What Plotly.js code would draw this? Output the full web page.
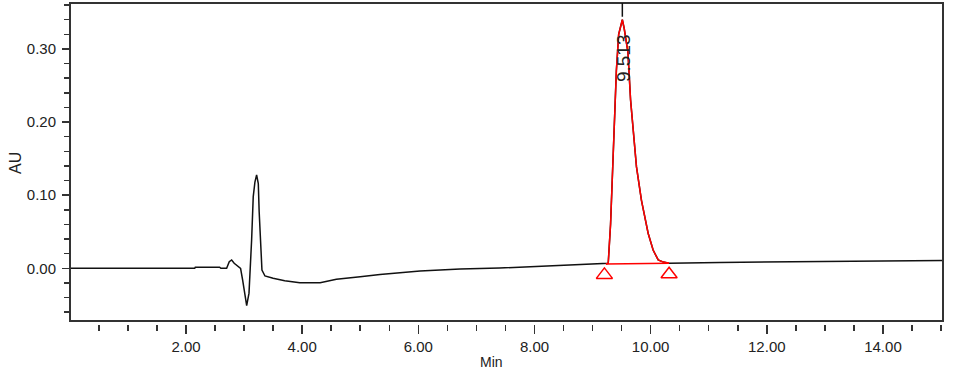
<!DOCTYPE html>
<html>
<head>
<meta charset="utf-8">
<script src="https://cdn.plot.ly/plotly-3.0.1.min.js"></script>
<style>html,body{margin:0;padding:0;background:#fff;}#chart{width:953px;height:371px;}</style>
</head>
<body>
<div id="chart"></div>
<script>
// ---- data ----
const timeMin = [0.00, 2.15, 2.16, 2.58, 2.60, 2.70, 2.745, 2.786, 2.83, 2.90, 2.94, 2.975, 3.015, 3.045, 3.085, 3.10, 3.13, 3.158, 3.187, 3.216, 3.245, 3.26, 3.285, 3.308, 3.36, 3.50, 3.70, 3.96, 4.31, 4.59, 5.00, 5.34, 6.03, 6.72, 7.40, 8.09, 8.78,
  9.23, 9.27, 9.31, 9.345, 9.38, 9.41, 9.45, 9.49, 9.513, 9.545, 9.61, 9.655, 9.70, 9.756, 9.842, 9.957, 10.043, 10.13, 10.22, 10.318,
  11.19, 12.57, 13.77, 15.03];
const signalAU = [0.0000, 0.0000, 0.0014, 0.0014, 0.0000, 0.0000, 0.0090, 0.0114, 0.0068, 0.0022, 0.0000, -0.0160, -0.0390, -0.0510, -0.0340, -0.0115, 0.0387, 0.0980, 0.1180, 0.1277, 0.1160, 0.0774, 0.0296, -0.0023, -0.0105, -0.0137, -0.0170, -0.0197, -0.0197, -0.0150, -0.0115, -0.0085, -0.0037, -0.0010, 0.0004, 0.0025, 0.0045,
  0.0060, 0.0070, 0.0600, 0.1400, 0.2100, 0.2700, 0.3200, 0.3360, 0.3400, 0.3280, 0.2950, 0.2300, 0.1850, 0.1390, 0.0930, 0.0480, 0.0250, 0.0114, 0.0085, 0.0068,
  0.0080, 0.0093, 0.0100, 0.0107];
const peakRT = [9.513];
const peakLabels = ["9.513"];
const peakStartMin = [9.23];
const peakEndMin = [10.318];
const xTickVals = [2, 4, 6, 8, 10, 12, 14];
const yTickVals = [0.0, 0.1, 0.2, 0.3];

// ---- layout constants ----
const W = 953, H = 371;
const M = {l: 70, r: 10, t: 3, b: 47};
const plotH = H - M.t - M.b;          // includes 3px gap under frame for x ticks
const gapFrac = 3 / plotH;
const xRange = [0.003, 15.034];
const yRange = [-0.0721, 0.3629];
const yDomainPx = plotH * (1 - gapFrac);
const pxToAU = (yRange[1] - yRange[0]) / yDomainPx;

function valueAt(t) {
  for (let i = 0; i < timeMin.length; i++) if (Math.abs(timeMin[i] - t) < 1e-9) return signalAU[i];
  return null;
}

const traces = [];
traces.push({
  x: timeMin, y: signalAU, type: 'scatter', mode: 'lines',
  line: {color: '#111111', width: 1.5}, hoverinfo: 'skip', showlegend: false
});

const shapes = [{
  type: 'rect', xref: 'x domain', yref: 'y domain', x0: 0, x1: 1, y0: 0, y1: 1,
  line: {color: '#333333', width: 2}, fillcolor: 'rgba(0,0,0,0)', layer: 'above'
}];
const annotations = [];

peakRT.forEach((rt, k) => {
  const s = peakStartMin[k], e = peakEndMin[k];
  const px = [], py = [];
  timeMin.forEach((t, i) => { if (t >= s - 1e-9 && t <= e + 1e-9) { px.push(t); py.push(signalAU[i]); } });
  const sy = valueAt(s), ey = valueAt(e), apex = valueAt(rt);
  // peak outline
  traces.push({x: px, y: py, type: 'scatter', mode: 'lines', line: {color: '#ff0000', width: 1.5}, hoverinfo: 'skip', showlegend: false});
  // integration baseline
  traces.push({x: [s, e], y: [sy, ey], type: 'scatter', mode: 'lines', line: {color: '#ff0000', width: 1.5}, hoverinfo: 'skip', showlegend: false});
  // start / end markers (open triangles just under the baseline)
  const drop = 11 * pxToAU;
  traces.push({x: [s - 1.5 / 58.1, e], y: [sy - drop, ey - drop], type: 'scatter', mode: 'markers',
    marker: {symbol: 'triangle-up-open', size: 14, color: '#ff0000', line: {color: '#ff0000', width: 1.5}},
    hoverinfo: 'skip', showlegend: false});
  // retention-time tick above the apex
  shapes.push({type: 'line', xref: 'x', yref: 'y', x0: rt, x1: rt, y0: apex + 3 * pxToAU, y1: yRange[1],
    line: {color: '#111111', width: 1.5}});
  annotations.push({x: rt, y: apex, xref: 'x', yref: 'y', text: peakLabels[k], showarrow: false,
    textangle: -90, xanchor: 'center', yanchor: 'middle', yshift: -38, xshift: 1,
    font: {family: 'Liberation Sans, Arial, sans-serif', size: 19, color: '#222222'}});
});

annotations.push({text: 'AU', xref: 'paper', yref: 'paper', x: (15 - M.l) / (W - M.l - M.r), y: 1 - (163 - M.t) / plotH,
  showarrow: false, textangle: -90, xanchor: 'center', yanchor: 'middle',
  font: {family: 'Liberation Sans, Arial, sans-serif', size: 16, color: '#222222'}});
annotations.push({text: 'Min', xref: 'paper', yref: 'paper', x: (491 - M.l) / (W - M.l - M.r), y: 1 - (362 - M.t) / plotH,
  showarrow: false, xanchor: 'center', yanchor: 'middle',
  font: {family: 'Liberation Sans, Arial, sans-serif', size: 14, color: '#222222'}});

const tickFont = {family: 'Liberation Sans, Arial, sans-serif', size: 15, color: '#222222'};
const layout = {
  width: W, height: H,
  margin: M,
  paper_bgcolor: '#ffffff', plot_bgcolor: '#ffffff',
  showlegend: false,
  xaxis: {
    range: xRange, anchor: 'free', position: 0,
    showline: false, zeroline: false, showgrid: false,
    tickmode: 'array', tickvals: xTickVals, tickformat: '.2f',
    ticks: 'outside', ticklen: 9, tickwidth: 1.5, tickcolor: '#333333',
    tickfont: tickFont,
    minor: {tickmode: 'linear', tick0: 0, dtick: 0.5, ticks: 'outside', ticklen: 6, tickwidth: 1.5, tickcolor: '#333333', showgrid: false}
  },
  yaxis: {
    range: yRange, domain: [gapFrac, 1],
    showline: false, zeroline: false, showgrid: false,
    tickmode: 'array', tickvals: yTickVals, tickformat: '.2f',
    ticks: 'outside', ticklen: 7, tickwidth: 1.5, tickcolor: '#333333',
    tickfont: tickFont, ticklabelstandoff: 3,
    minor: {tickmode: 'linear', tick0: 0, dtick: 0.02, ticks: 'outside', ticklen: 5, tickwidth: 1.5, tickcolor: '#333333', showgrid: false}
  },
  shapes: shapes,
  annotations: annotations
};

Plotly.newPlot('chart', traces, layout, {staticPlot: true, displayModeBar: false});
</script>
</body>
</html>
